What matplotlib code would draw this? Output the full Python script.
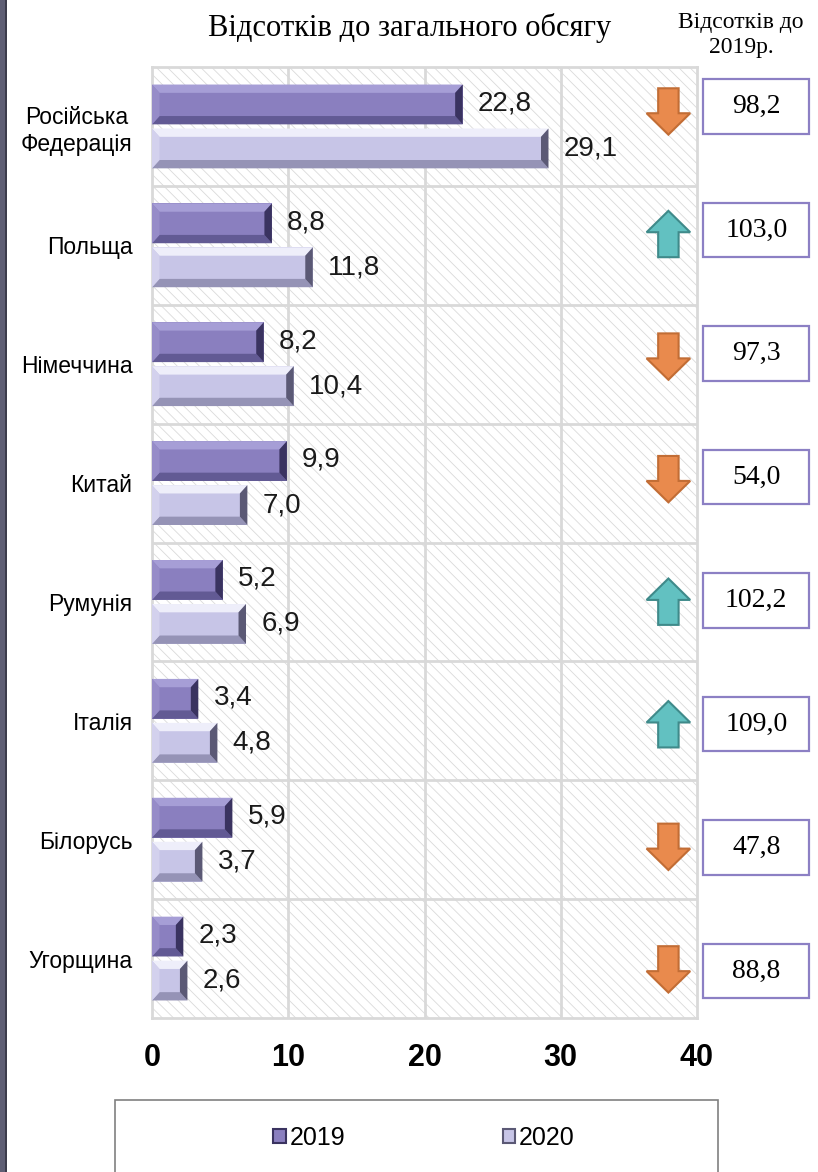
import numpy as np
import matplotlib.pyplot as plt
from matplotlib.patches import Rectangle, Polygon, Patch

plt.rcParams['font.family'] = ['Liberation Sans', 'DejaVu Sans']
plt.rcParams['hatch.linewidth'] = 0.6

# дані
countries = ['Російська\nФедерація', 'Польща', 'Німеччина', 'Китай',
             'Румунія', 'Італія', 'Білорусь', 'Угорщина']
share_2019 = [22.8, 8.8, 8.2, 9.9, 5.2, 3.4, 5.9, 2.3]
share_2020 = [29.1, 11.8, 10.4, 7.0, 6.9, 4.8, 3.7, 2.6]
pct_of_2019 = [98.2, 103.0, 97.3, 54.0, 102.2, 109.0, 47.8, 88.8]
years = ['2019', '2020']
x_ticks = [0, 10, 20, 30, 40]

# кольори: основа, верх, низ, правий край, лівий край
colors_2019 = ('#8a7fbf', '#a69ed6', '#625a94', '#3a3360', '#968cc8')
colors_2020 = ('#c7c5e7', '#eeeefa', '#9593b6', '#5b5975', '#d3d1ed')


def bevel_bar(ax, y, w, h, cols, bx=0.55, by=0.07):
    base, light, dark, darker, side = cols
    bx = min(bx, w / 2)
    top, bot = y - h / 2, y + h / 2
    ax.add_patch(Rectangle((0, top), w, h, facecolor=base, edgecolor='none', zorder=3))
    ax.add_patch(Polygon([(0, top), (w, top), (w - bx, top + by), (bx, top + by)],
                         facecolor=light, edgecolor='none', zorder=4))
    ax.add_patch(Polygon([(0, bot), (w, bot), (w - bx, bot - by), (bx, bot - by)],
                         facecolor=dark, edgecolor='none', zorder=4))
    ax.add_patch(Polygon([(w, top), (w, bot), (w - bx, bot - by), (w - bx, top + by)],
                         facecolor=darker, edgecolor='none', zorder=4))
    ax.add_patch(Polygon([(0, top), (0, bot), (bx, bot - by), (bx, top + by)],
                         facecolor=side, edgecolor='none', zorder=4))


def arrow(ax, cx, cy, up, w=3.2, sw=1.5, h=0.39, hh=0.18):
    s = -1 if up else 1
    t, b = cy - s * h / 2, cy + s * h / 2
    neck = b - s * hh
    pts = [(cx - sw / 2, t), (cx + sw / 2, t), (cx + sw / 2, neck), (cx + w / 2, neck),
           (cx, b), (cx - w / 2, neck), (cx - sw / 2, neck)]
    fc, ec = ('#62c1c1', '#3f8a8a') if up else ('#e98a4d', '#c26d35')
    ax.add_patch(Polygon(pts, facecolor=fc, edgecolor=ec, lw=1.5, zorder=5, clip_on=False))


fig = plt.figure(figsize=(8.18, 11.72), dpi=100)
fig.patches.append(Rectangle((0, 0), 7 / 818, 1, transform=fig.transFigure,
                             facecolor='#5e5e74', edgecolor='none'))
fig.patches.append(Rectangle((5 / 818, 0), 2 / 818, 1, transform=fig.transFigure,
                             facecolor='#3c3c4c', edgecolor='none'))

ax = fig.add_axes([152 / 818, 1 - 1018 / 1172, 545 / 818, 951 / 1172])
n = len(countries)
ypos = np.arange(n)
ax.set_xlim(0, 40)
ax.set_ylim(n - 0.5, -0.5)

# фон зі штриховкою
ax.add_patch(Rectangle((0, -0.5), 40, n, facecolor='white', edgecolor='#dadada',
                       lw=0, hatch='\\\\\\', zorder=0))
for x in x_ticks[1:-1]:
    ax.axvline(x, color='#d9d9d9', lw=2, zorder=1)
for y in ypos[:-1]:
    ax.axhline(y + 0.5, color='#d9d9d9', lw=2, zorder=1)
for sp in ax.spines.values():
    sp.set_color('#d9d9d9')
    sp.set_linewidth(2)

bh = 0.335
for i in range(n):
    bevel_bar(ax, i - 0.185, share_2019[i], bh, colors_2019)
    bevel_bar(ax, i + 0.185, share_2020[i], bh, colors_2020)
    for v, yy in ((share_2019[i], i - 0.195), (share_2020[i], i + 0.185)):
        ax.annotate(f'{v:.1f}'.replace('.', ','), xy=(v, yy), xytext=(11, 0),
                    textcoords='offset points', ha='left', va='center', fontsize=20,
                    color='#1a1a1a', zorder=6)

# стрілки та рамки зі значеннями
for i, p in enumerate(pct_of_2019):
    arrow(ax, 37.9, -0.126 + 1.031 * i, p >= 100)
    by = -0.168 + 1.039 * i
    ax.add_patch(Rectangle((40.45, by - 0.23), 7.8, 0.46, facecolor='white',
                           edgecolor='#8c80c4', lw=1.6, clip_on=False, zorder=5))
    ax.text(44.35, by, f'{p:.1f}'.replace('.', ','), ha='center', va='center',
            fontsize=20, family='Liberation Serif', zorder=6)

ax.set_xticks(x_ticks)
ax.set_xticklabels([str(t) for t in x_ticks], fontsize=22, fontweight='bold')
ax.set_yticks(ypos)
ax.set_yticklabels(countries, fontsize=16.5, multialignment='center')
ax.tick_params(axis='x', length=0, pad=18)
ax.tick_params(axis='y', length=0, pad=14)

fig.text(410 / 818, 1 - 28 / 1172, 'Відсотків до загального обсягу', ha='center',
         va='center', fontsize=22, family='Liberation Serif')
fig.text(741 / 818, 1 - 35 / 1172, 'Відсотків до\n2019р.', ha='center', va='center',
         fontsize=17, family='Liberation Serif', linespacing=1.3)

# легенда
fig.patches.append(Rectangle((115 / 818, 1 - 1185 / 1172), 603 / 818, 85 / 1172,
                             transform=fig.transFigure, facecolor='white',
                             edgecolor='#808080', lw=1.2))
handles = [Patch(facecolor=colors_2019[0], edgecolor=colors_2019[3], lw=1.5),
           Patch(facecolor=colors_2020[0], edgecolor=colors_2020[3], lw=1.5)]
fig.legend(handles, years, loc='center', bbox_to_anchor=(424 / 818, 1 - 1138 / 1172),
           ncol=2, frameon=False, fontsize=18, handlelength=0.5, handleheight=0.5,
           handletextpad=0.15, columnspacing=6.3)

fig.savefig('out.png', dpi=100)
